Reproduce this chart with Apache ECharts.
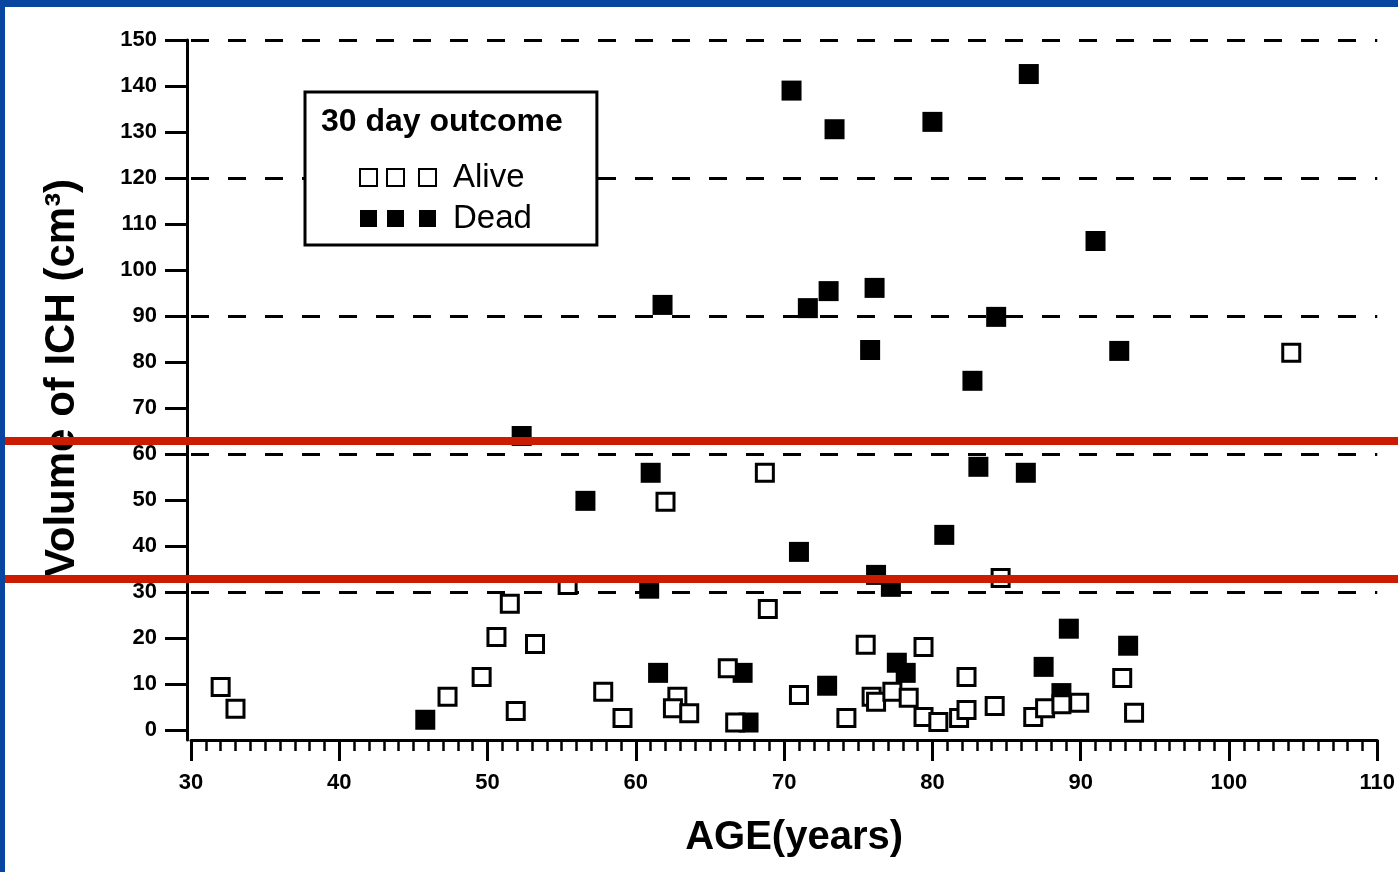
<!DOCTYPE html>
<html>
<head>
<meta charset="utf-8">
<script src="https://cdn.jsdelivr.net/npm/echarts@6/dist/echarts.min.js"></script>
<style>
  html, body { margin: 0; padding: 0; background: #fff; }
  #main { width: 1398px; height: 872px; }
</style>
</head>
<body>
<div id="main"></div>
<script>
// ages and ICH volumes
var aliveAge = [32.0, 33.0, 47.3, 49.6, 50.6, 51.5, 51.9, 53.2, 55.4, 57.8, 59.1, 62.0, 62.8, 62.5,
  63.6, 66.2, 66.7, 68.7, 68.9, 71.0, 74.2, 75.5, 75.9, 76.2, 77.3, 78.4, 79.4, 79.4, 80.4,
  81.8, 82.3, 82.3, 84.2, 84.6, 86.8, 87.6, 88.7, 89.9, 92.8, 93.6, 104.2];
var aliveVol = [9.3, 4.6, 7.2, 11.5, 20.2, 27.4, 4.1, 18.7, 31.5, 8.3, 2.6, 49.6, 7.2, 4.7,
  3.6, 13.4, 1.6, 55.9, 26.3, 7.6, 2.6, 18.5, 7.2, 6.1, 8.3, 7.0, 18.0, 2.8, 1.7,
  2.6, 4.3, 11.5, 5.2, 33.0, 2.8, 4.7, 5.6, 5.9, 11.3, 3.7, 82.0];

var deadAge = [45.8, 52.3, 56.6, 60.9, 61.0, 61.5, 61.8, 67.2, 67.6, 70.5, 71.0, 71.6, 72.9, 73.0,
  73.4, 75.8, 76.1, 76.2, 77.2, 77.6, 78.2, 80.0, 80.8, 82.7, 83.1, 84.3, 86.3, 86.5,
  87.5, 88.7, 89.2, 91.0, 92.6, 93.2];
var deadVol = [2.2, 63.9, 49.8, 30.7, 55.9, 12.4, 92.4, 12.4, 1.6, 139.0, 38.7, 91.7, 9.6, 95.4,
  130.6, 82.6, 96.1, 33.7, 31.1, 14.6, 12.4, 132.2, 42.4, 75.9, 57.2, 89.8, 55.9, 142.6,
  13.7, 8.0, 22.0, 106.3, 82.4, 18.3];

var yTicks = [0, 10, 20, 30, 40, 50, 60, 70, 80, 90, 100, 110, 120, 130, 140, 150];
var refLines = [30, 60, 90, 120, 150];

var FONT = '"Liberation Sans", Arial, sans-serif';
var BLUE = '#0845a0';
var RED = '#cb1c02';

function pairs(xs, ys) {
  return xs.map(function (x, i) { return [x, ys[i]]; });
}

var myChart = echarts.init(document.getElementById('main'));

myChart.setOption({
  animation: false,
  backgroundColor: '#fff',
  textStyle: { fontFamily: FONT },
  grid: { left: 191, right: 20, top: 40, bottom: 132 },
  title: {
    text: '30 day outcome',
    left: 321,
    top: 106,
    padding: 0,
    z: 12,
    textStyle: { fontFamily: FONT, fontSize: 32, fontWeight: 'bold', color: '#000' }
  },
  legend: {
    orient: 'vertical',
    left: 305,
    top: 92,
    z: 10,
    data: ['Alive', 'Dead'],
    icon: 'path://M0 0H17V17H0Z M27 0H44V17H27Z M59 0H76V17H59Z',
    itemWidth: 76,
    itemHeight: 17,
    itemGap: 8,
    padding: [69, 65, 10, 54],
    borderColor: '#000',
    borderWidth: 3,
    backgroundColor: '#fff',
    selectedMode: false,
    textStyle: { fontFamily: FONT, fontSize: 33, color: '#000', padding: [0, 0, 0, 12] }
  },
  xAxis: {
    type: 'value',
    min: 30,
    max: 110,
    interval: 10,
    name: 'AGE(years)',
    nameLocation: 'middle',
    nameGap: 78,
    nameTextStyle: { fontFamily: FONT, fontSize: 40, fontWeight: 'bold', color: '#000', padding: [0, 0, 0, 20] },
    axisLine: { show: true, onZero: false, lineStyle: { color: '#000', width: 3 } },
    axisTick: { show: true, length: 21, lineStyle: { color: '#000', width: 3 } },
    minorTick: { show: true, splitNumber: 10, length: 11, lineStyle: { color: '#000', width: 2.5 } },
    axisLabel: { margin: 32, fontFamily: FONT, fontSize: 22, fontWeight: 'bold', color: '#000' },
    splitLine: { show: false }
  },
  yAxis: {
    type: 'value',
    min: -2.2,
    max: 150,
    offset: 4,
    name: 'Volume of ICH (cm³)',
    nameLocation: 'middle',
    nameGap: 104,
    nameTextStyle: { fontFamily: FONT, fontSize: 42, fontWeight: 'bold', color: '#000', padding: [0, 0, 0, 24] },
    axisLine: { show: true, onZero: false, lineStyle: { color: '#000', width: 3 } },
    axisTick: { show: true, length: 22, customValues: yTicks, lineStyle: { color: '#000', width: 3 } },
    axisLabel: { customValues: yTicks, margin: 30, fontFamily: FONT, fontSize: 22, fontWeight: 'bold', color: '#000' },
    splitLine: { show: false }
  },
  series: [
    {
      name: 'Dead',
      type: 'scatter',
      symbol: 'rect',
      symbolSize: 20,
      z: 2,
      itemStyle: { color: '#000', opacity: 1 },
      data: pairs(deadAge, deadVol),
      markLine: {
        silent: true,
        z: 1,
        symbol: ['none', 'none'],
        label: { show: false },
        lineStyle: { color: '#000', width: 3, type: [18, 19] },
        data: refLines.map(function (v) { return { yAxis: v }; })
      }
    },
    {
      name: 'Alive',
      type: 'scatter',
      symbol: 'rect',
      symbolSize: 17,
      z: 3,
      itemStyle: { color: '#fff', borderColor: '#000', borderWidth: 3, opacity: 1 },
      data: pairs(aliveAge, aliveVol)
    }
  ],
  graphic: [
    { type: 'rect', z: 100, shape: { x: 0, y: 0, width: 1398, height: 7 }, style: { fill: BLUE } },
    { type: 'rect', z: 100, shape: { x: 0, y: 0, width: 5, height: 872 }, style: { fill: BLUE } },
    { type: 'rect', z: 100, shape: { x: 5, y: 437, width: 1393, height: 8 }, style: { fill: RED } },
    { type: 'rect', z: 100, shape: { x: 5, y: 575, width: 1393, height: 8 }, style: { fill: RED } }
  ]
});
</script>
</body>
</html>
